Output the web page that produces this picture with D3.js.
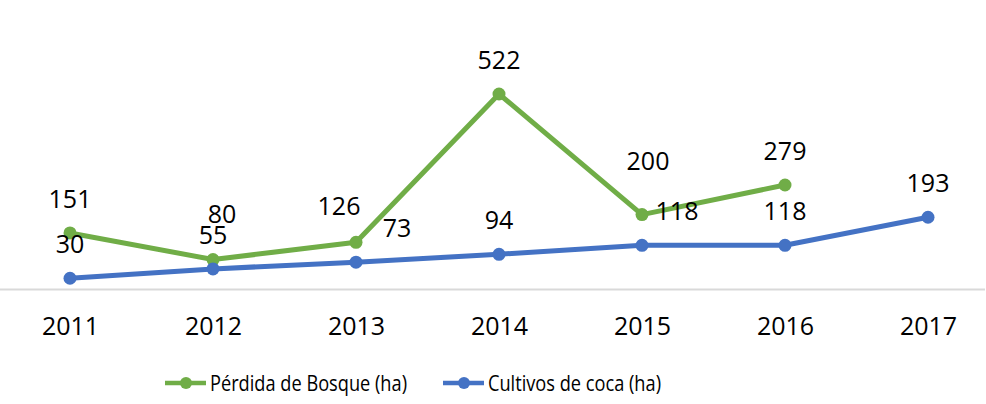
<!DOCTYPE html>
<html>
<head>
<meta charset="utf-8">
<script src="https://cdn.jsdelivr.net/npm/d3@7"></script>
<style>
  html, body { margin: 0; padding: 0; background: #fff; }
  svg text { font-family: "Open Sans", sans-serif; fill: #000; }
</style>
</head>
<body>
<div id="chart"></div>
<script>
const YEARS = ["2011", "2012", "2013", "2014", "2015", "2016", "2017"];
const BOSQUE = [151, 80, 126, 522, 200, 279, null];
const COCA = [30, 55, 73, 94, 118, 118, 193];
const SERIES_NAMES = ["Pérdida de Bosque (ha)", "Cultivos de coca (ha)"];
const COLORS = ["#70ad47", "#4472c4"];

// manual nudges for the data labels (Excel moved a few of them)
const BOSQUE_NUDGE = [[0, 0], [9, -12], [-17, -2], [0, 0], [6, -20], [0, 0], [0, 0]];
const COCA_NUDGE = [[0, 0], [0, 0], [41, 0], [0, 0], [35, 0], [0, 0], [0, 0]];

const W = 986, H = 404;
const LABEL_DY = -34;

const svg = d3.select("#chart").append("svg")
  .attr("width", W).attr("height", H);

const x = d3.scalePoint().domain(YEARS).range([70, 928]);
const y = d3.scaleLinear().domain([0, 600]).range([289.5, 64.8]);

// baseline
svg.append("line")
  .attr("x1", 0).attr("x2", 985)
  .attr("y1", y(0)).attr("y2", y(0))
  .attr("stroke", "#d9d9d9").attr("stroke-width", 2);

// x axis labels
const xAxis = d3.axisBottom(x).tickSize(0).tickPadding(0);
const gx = svg.append("g").attr("transform", `translate(0,${y(0)})`).call(xAxis);
gx.select(".domain").remove();
gx.selectAll("text")
  .attr("y", 45).attr("dy", null)
  .style("font-size", "25px")
  .style("font-family", "'Open Sans', sans-serif")
  .attr("fill", "#000");

const series = [
  { values: BOSQUE, nudge: BOSQUE_NUDGE, color: COLORS[0] },
  { values: COCA, nudge: COCA_NUDGE, color: COLORS[1] },
];

const line = d3.line()
  .defined((d) => d.v != null)
  .x((d) => x(d.year))
  .y((d) => y(d.v));

series.forEach((s) => {
  const pts = YEARS.map((year, i) => ({ year, v: s.values[i], nudge: s.nudge[i] }));
  const g = svg.append("g");
  g.append("path")
    .datum(pts)
    .attr("d", line)
    .attr("fill", "none")
    .attr("stroke", s.color)
    .attr("stroke-width", 5)
    .attr("stroke-linejoin", "round");
  g.selectAll("circle")
    .data(pts.filter((d) => d.v != null))
    .join("circle")
    .attr("cx", (d) => x(d.year))
    .attr("cy", (d) => y(d.v))
    .attr("r", 6.5)
    .attr("fill", s.color);
  s.labels = pts.filter((d) => d.v != null);
});

// labels on top of both lines
series.forEach((s) => {
  svg.append("g").selectAll("text")
    .data(s.labels)
    .join("text")
    .attr("x", (d) => x(d.year) + d.nudge[0])
    .attr("y", (d) => y(d.v) + LABEL_DY + d.nudge[1] + 9)
    .attr("text-anchor", "middle")
    .style("font-size", "25px")
    .text((d) => d.v);
});

// legend
const legendItems = [
  { name: SERIES_NAMES[0], color: COLORS[0], x0: 165, w: 197 },
  { name: SERIES_NAMES[1], color: COLORS[1], x0: 443, w: 173 },
];
const lg = svg.append("g").attr("transform", "translate(0,383)");
legendItems.forEach((it) => {
  lg.append("line")
    .attr("x1", it.x0).attr("x2", it.x0 + 41)
    .attr("y1", 0).attr("y2", 0)
    .attr("stroke", it.color).attr("stroke-width", 4.5);
  lg.append("circle")
    .attr("cx", it.x0 + 21).attr("cy", 0).attr("r", 6)
    .attr("fill", it.color);
  lg.append("text")
    .attr("x", it.x0 + 45).attr("y", 8)
    .attr("textLength", it.w)
    .attr("lengthAdjust", "spacingAndGlyphs")
    .style("font-size", "22px")
    .text(it.name);
});
</script>
</body>
</html>
